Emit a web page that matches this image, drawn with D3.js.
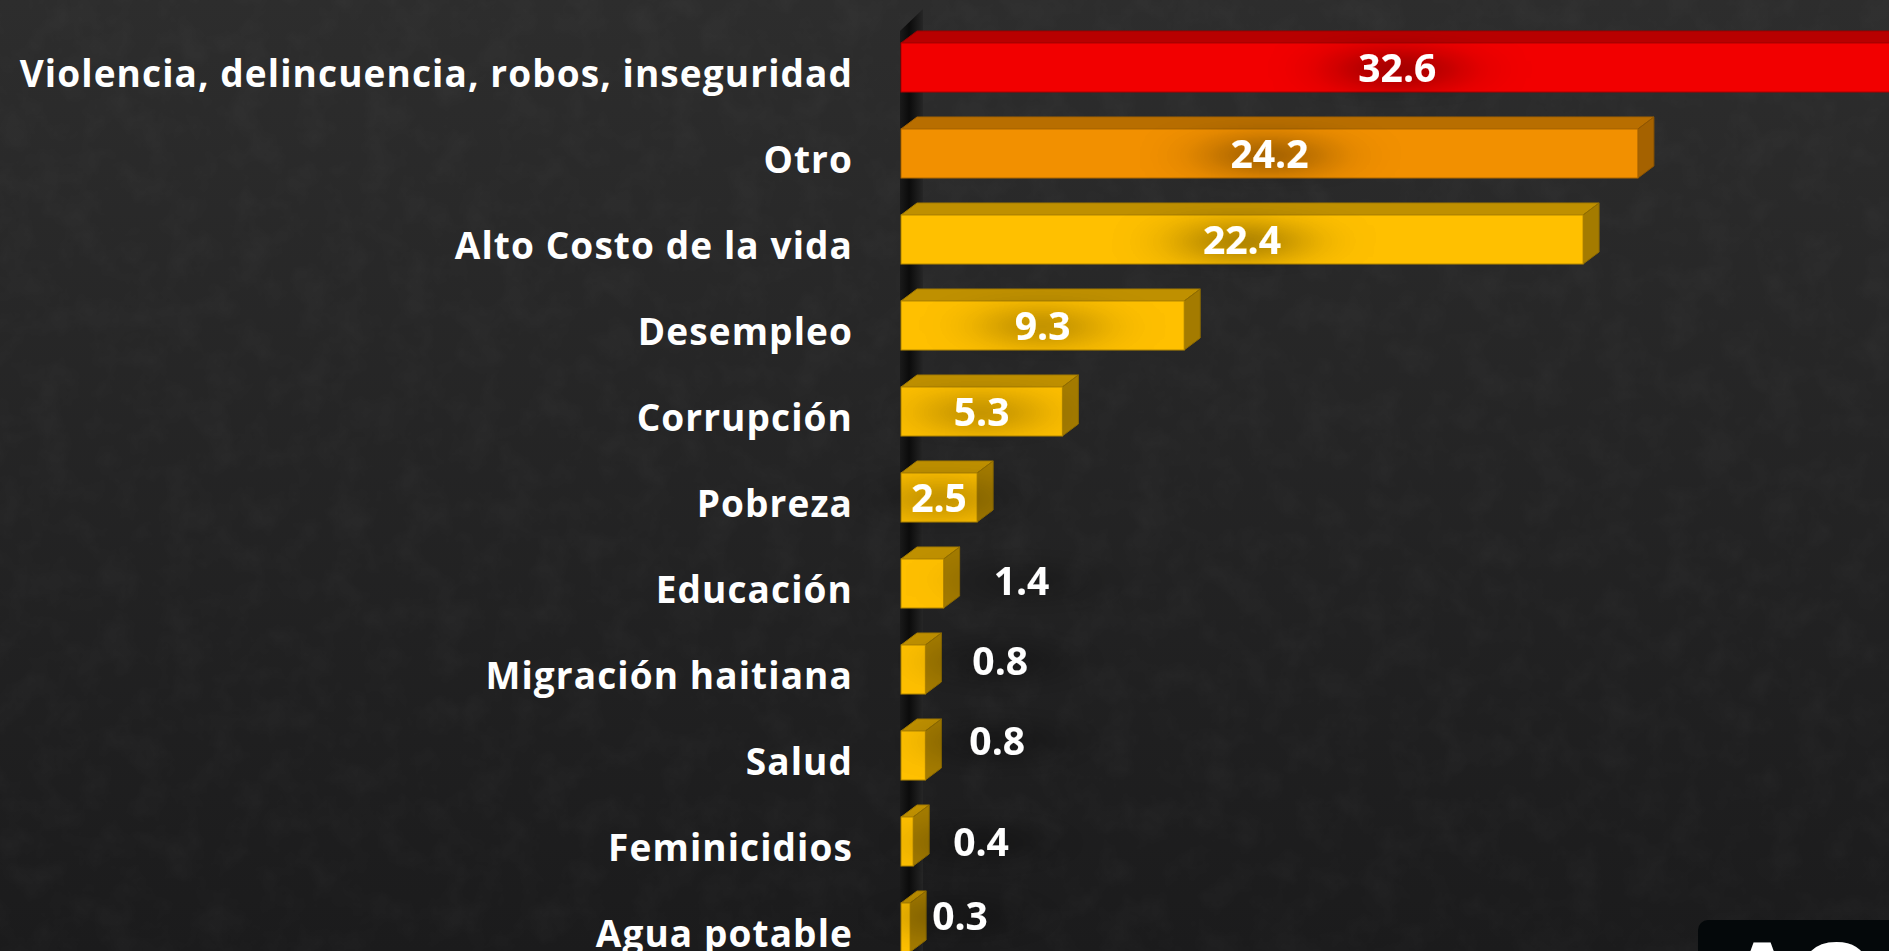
<!DOCTYPE html>
<html>
<head>
<meta charset="utf-8">
<script src="https://cdn.jsdelivr.net/npm/d3@7"></script>
<style>
  body { margin: 0; background: #232323; overflow: hidden; }
  text { font-family: "Open Sans", sans-serif; font-weight: 700; }
</style>
</head>
<body>
<svg id="chart" width="1889" height="951"></svg>
<script>
// --- data ---
var categories = ["Violencia, delincuencia, robos, inseguridad", "Otro", "Alto Costo de la vida",
                  "Desempleo", "Corrupción", "Pobreza", "Educación", "Migración haitiana",
                  "Salud", "Feminicidios", "Agua potable"];
var values = [32.6, 24.2, 22.4, 9.3, 5.3, 2.5, 1.4, 0.8, 0.8, 0.4, 0.3];

// face colours: front, top, side
var palette = {
    red:    ["#f20000", "#b80000", "#990000"],
    orange: ["#f29000", "#b86e00", "#a56200"],
    yellow: ["#ffc000", "#bf9000", "#a47b00"]
};
var barTone = ["red", "orange", "yellow", "yellow", "yellow", "yellow",
               "yellow", "yellow", "yellow", "yellow", "yellow"];

// hand placed labels for the small bars, [dx, dy] from the bar end
var outsideShift = {6: [34, -3], 7: [31, -9], 8: [28, -15], 9: [24, 0], 10: [6, -12]};

var W = 1889, H = 951;
var depthX = 16, depthY = 12;

var svg = d3.select("#chart");
var defs = svg.append("defs");

// background
var bg = defs.append("linearGradient").attr("id", "bg")
    .attr("x1", 0).attr("y1", 0).attr("x2", 0).attr("y2", 1);
bg.append("stop").attr("offset", "0%").attr("stop-color", "#2d2d2d");
bg.append("stop").attr("offset", "100%").attr("stop-color", "#1b1b1c");

var noise = defs.append("filter").attr("id", "noise");
noise.append("feTurbulence").attr("type", "fractalNoise")
    .attr("baseFrequency", "0.03").attr("numOctaves", 4).attr("seed", 4);
noise.append("feColorMatrix").attr("type", "matrix")
    .attr("values", "0 0 0 0 1  0 0 0 0 1  0 0 0 0 1  0 0 0 0.9 -0.35");

var wall = defs.append("linearGradient").attr("id", "wall")
    .attr("x1", 0).attr("y1", 0).attr("x2", 1).attr("y2", 0);
wall.append("stop").attr("offset", "0%").attr("stop-color", "#1a1a1a");
wall.append("stop").attr("offset", "40%").attr("stop-color", "#0b0b0b");
wall.append("stop").attr("offset", "100%").attr("stop-color", "#262626");

// soft dark halo behind the value labels
var glow = defs.append("filter").attr("id", "glow")
    .attr("x", "-300%").attr("y", "-150%").attr("width", "700%").attr("height", "400%");
glow.append("feGaussianBlur").attr("in", "SourceAlpha")
    .attr("stdDeviation", "42 13").attr("result", "blur");
glow.append("feColorMatrix").attr("in", "blur").attr("type", "matrix")
    .attr("values", "0 0 0 0 0  0 0 0 0 0  0 0 0 0 0  0 0 0 1.5 0").attr("result", "shade");
var gm = glow.append("feMerge");
gm.append("feMergeNode").attr("in", "shade");
gm.append("feMergeNode").attr("in", "SourceGraphic");

svg.append("rect").attr("width", W).attr("height", H).attr("fill", "url(#bg)");
svg.append("rect").attr("width", W).attr("height", H)
    .attr("filter", "url(#noise)").attr("opacity", 0.05);

// scales
var x = d3.scaleLinear().domain([0, 35]).range([901, 901 + 35 * 30.45]);
var y = d3.scaleBand().domain(categories)
    .range([43, 43 + 86 * (categories.length - 0.43)])
    .paddingInner(0.43).paddingOuter(0);
var bh = y.bandwidth();

// axis wall shadow
svg.append("polygon")
    .attr("points", [[x(0) - 1, 31], [x(0) + 22, 9], [x(0) + 22, H], [x(0) - 1, H]].join(" "))
    .attr("fill", "url(#wall)");

var rows = categories.map(function (c, i) {
    return {cat: c, v: values[i], i: i, col: palette[barTone[i]]};
});

var bar = svg.append("g").selectAll("g").data(rows).join("g");

bar.append("polygon")
    .attr("points", function (d) {
        var x0 = x(0), x1 = x(d.v), y0 = y(d.cat);
        return [[x0, y0], [x0 + depthX, y0 - depthY], [x1 + depthX, y0 - depthY], [x1, y0]].join(" ");
    })
    .attr("fill", function (d) { return d.col[1]; })
    .attr("stroke", function (d) { return d.col[2]; }).attr("stroke-width", 1);

bar.append("polygon")
    .attr("points", function (d) {
        var x1 = x(d.v), y0 = y(d.cat);
        return [[x1, y0], [x1 + depthX, y0 - depthY], [x1 + depthX, y0 + bh - depthY], [x1, y0 + bh]].join(" ");
    })
    .attr("fill", function (d) { return d.col[2]; })
    .attr("stroke", function (d) { return d3.color(d.col[2]).darker(0.4); }).attr("stroke-width", 1);

bar.append("rect")
    .attr("x", x(0))
    .attr("y", function (d) { return y(d.cat); })
    .attr("width", function (d) { return x(d.v) - x(0); })
    .attr("height", bh)
    .attr("fill", function (d) { return d.col[0]; })
    .attr("stroke", function (d) { return d3.color(d.col[1]).darker(0.2); }).attr("stroke-width", 1);

// category labels
svg.append("g").selectAll("text").data(rows).join("text")
    .attr("x", 853)
    .attr("y", function (d) { return y(d.cat) + bh / 2 + 19; })
    .attr("text-anchor", "end")
    .attr("fill", "#ffffff")
    .attr("font-size", 37)
    .attr("letter-spacing", 1.1)
    .text(function (d) { return d.cat; });

// value labels
svg.append("g").selectAll("text").data(rows).join("text")
    .attr("x", function (d) {
        if (outsideShift[d.i]) return x(d.v) + depthX + outsideShift[d.i][0];
        return (x(0) + x(d.v)) / 2;
    })
    .attr("y", function (d) {
        var s = outsideShift[d.i] ? outsideShift[d.i][1] : 0;
        return y(d.cat) + bh / 2 + 14 + s;
    })
    .attr("text-anchor", function (d) { return outsideShift[d.i] ? "start" : "middle"; })
    .attr("fill", "#ffffff")
    .attr("font-size", 39)
    .attr("filter", "url(#glow)")
    .text(function (d) { return d3.format(".1f")(d.v); });

// logo corner
svg.append("rect").attr("x", 1698).attr("y", 920).attr("width", 240).attr("height", 100)
    .attr("rx", 10).attr("fill", "#04080a");
svg.append("text").attr("x", 1726).attr("y", 1012)
    .attr("fill", "#ffffff").attr("font-size", 100)
    .style("font-family", "'Liberation Sans', Arial, sans-serif")
    .text("AC");
</script>
</body>
</html>
